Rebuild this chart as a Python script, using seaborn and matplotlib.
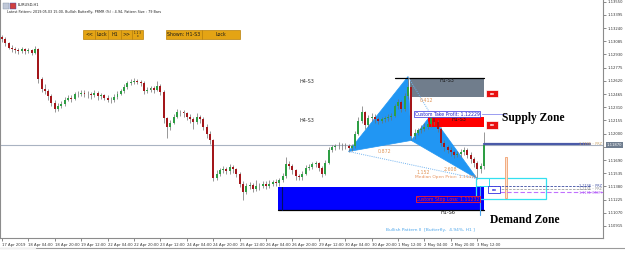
import numpy as np
import pandas as pd
import matplotlib
matplotlib.use("Agg")
import matplotlib.pyplot as plt
import seaborn as sns
from matplotlib.patches import Rectangle, Polygon
from matplotlib.transforms import blended_transform_factory

# ---------------- data (EURUSD, 2-hour candles) ----------------
first_open = 1.1313
close = [1.1311, 1.1306, 1.1301, 1.1299, 1.1298, 1.1297, 1.1299, 1.1297, 1.1298, 1.1295,
         1.1299, 1.1264, 1.1253, 1.1250, 1.1244, 1.1236, 1.1229, 1.1233, 1.1235, 1.1240,
         1.1242, 1.1241, 1.1246, 1.1247, 1.1248, 1.1247, 1.1246, 1.1245, 1.1248, 1.1244,
         1.1245, 1.1242, 1.1240, 1.1239, 1.1243, 1.1247, 1.1250, 1.1255, 1.1259, 1.1261,
         1.1262, 1.1261, 1.1260, 1.1250, 1.1251, 1.1254, 1.1251, 1.1256, 1.1249, 1.1218,
         1.1208, 1.1213, 1.1220, 1.1226, 1.1225, 1.1224, 1.1220, 1.1217, 1.1214, 1.1219,
         1.1217, 1.1208, 1.1199, 1.1192, 1.1148, 1.1153, 1.1157, 1.1158, 1.1156, 1.1161,
         1.1158, 1.1153, 1.1141, 1.1131, 1.1139, 1.1140, 1.1135, 1.1138, 1.1139, 1.1141,
         1.1139, 1.1141, 1.1143, 1.1142, 1.1145, 1.1150, 1.1164, 1.1162, 1.1157, 1.1150,
         1.1149, 1.1153, 1.1160, 1.1161, 1.1164, 1.1165, 1.1160, 1.1153, 1.1166, 1.1181,
         1.1184, 1.1185, 1.1186, 1.1185, 1.1186, 1.1183, 1.1185, 1.1200, 1.1215, 1.1225,
         1.1210, 1.1218, 1.1220, 1.1217, 1.1215, 1.1217, 1.1218, 1.1219, 1.1221, 1.1232,
         1.1237, 1.1229, 1.1244, 1.1255, 1.1197, 1.1201, 1.1204, 1.1206, 1.1208, 1.1211,
         1.1218, 1.1214, 1.1206, 1.1189, 1.1184, 1.1181, 1.1178, 1.1175, 1.1176, 1.1178,
         1.1181, 1.1175, 1.1170, 1.1165, 1.1158, 1.1162, 1.1187]
high = [1.1316, 1.1313, 1.1308, 1.1304, 1.1302, 1.1301, 1.1302, 1.1301, 1.1301, 1.1300,
        1.1303, 1.1301, 1.1267, 1.1258, 1.1253, 1.1247, 1.1239, 1.1236, 1.1238, 1.1243,
        1.1245, 1.1245, 1.1249, 1.1250, 1.1251, 1.1251, 1.1250, 1.1249, 1.1251, 1.1250,
        1.1248, 1.1247, 1.1245, 1.1243, 1.1246, 1.1250, 1.1253, 1.1258, 1.1262, 1.1264,
        1.1265, 1.1264, 1.1263, 1.1262, 1.1255, 1.1256, 1.1256, 1.1262, 1.1258, 1.1251,
        1.1220, 1.1216, 1.1223, 1.1229, 1.1228, 1.1228, 1.1226, 1.1223, 1.1219, 1.1224,
        1.1222, 1.1220, 1.1211, 1.1203, 1.1194, 1.1157, 1.1160, 1.1162, 1.1161, 1.1164,
        1.1163, 1.1160, 1.1155, 1.1144, 1.1142, 1.1143, 1.1142, 1.1146, 1.1142, 1.1144,
        1.1144, 1.1145, 1.1146, 1.1147, 1.1148, 1.1154, 1.1172, 1.1168, 1.1164, 1.1159,
        1.1153, 1.1156, 1.1163, 1.1164, 1.1167, 1.1168, 1.1167, 1.1162, 1.1169, 1.1184,
        1.1187, 1.1188, 1.1190, 1.1189, 1.1189, 1.1188, 1.1188, 1.1203, 1.1219, 1.1232,
        1.1227, 1.1222, 1.1224, 1.1223, 1.1219, 1.1220, 1.1221, 1.1223, 1.1224, 1.1235,
        1.1241, 1.1240, 1.1248, 1.1267, 1.1258, 1.1205, 1.1207, 1.1210, 1.1212, 1.1215,
        1.1222, 1.1220, 1.1216, 1.1208, 1.1192, 1.1187, 1.1184, 1.1181, 1.1180, 1.1182,
        1.1184, 1.1183, 1.1178, 1.1173, 1.1168, 1.1166, 1.1202]
low = [1.1308, 1.1303, 1.1299, 1.1296, 1.1295, 1.1294, 1.1295, 1.1294, 1.1295, 1.1292,
       1.1294, 1.1260, 1.1249, 1.1246, 1.1240, 1.1232, 1.1226, 1.1227, 1.1230, 1.1233,
       1.1238, 1.1237, 1.1239, 1.1243, 1.1244, 1.1243, 1.1242, 1.1241, 1.1243, 1.1240,
       1.1241, 1.1239, 1.1237, 1.1236, 1.1237, 1.1241, 1.1245, 1.1248, 1.1253, 1.1257,
       1.1258, 1.1258, 1.1256, 1.1247, 1.1248, 1.1249, 1.1248, 1.1250, 1.1245, 1.1212,
       1.1195, 1.1204, 1.1211, 1.1218, 1.1221, 1.1220, 1.1216, 1.1212, 1.1205, 1.1211,
       1.1213, 1.1204, 1.1195, 1.1188, 1.1144, 1.1145, 1.1150, 1.1154, 1.1152, 1.1153,
       1.1154, 1.1149, 1.1137, 1.1122, 1.1129, 1.1135, 1.1131, 1.1133, 1.1134, 1.1136,
       1.1135, 1.1136, 1.1138, 1.1139, 1.1139, 1.1143, 1.1148, 1.1158, 1.1153, 1.1146,
       1.1145, 1.1146, 1.1151, 1.1157, 1.1158, 1.1161, 1.1156, 1.1149, 1.1151, 1.1164,
       1.1178, 1.1181, 1.1182, 1.1181, 1.1182, 1.1179, 1.1180, 1.1183, 1.1198, 1.1213,
       1.1206, 1.1208, 1.1215, 1.1213, 1.1211, 1.1212, 1.1214, 1.1215, 1.1216, 1.1219,
       1.1229, 1.1225, 1.1227, 1.1241, 1.1192, 1.1194, 1.1198, 1.1201, 1.1203, 1.1205,
       1.1208, 1.1210, 1.1202, 1.1185, 1.1180, 1.1177, 1.1174, 1.1171, 1.1172, 1.1173,
       1.1175, 1.1171, 1.1166, 1.1161, 1.1147, 1.1154, 1.1159]
bars_per_candle = 2

x_tick_labels = ["17 Apr 2019", "18 Apr 04:00", "18 Apr 20:00", "19 Apr 12:00", "22 Apr 04:00",
                 "22 Apr 20:00", "23 Apr 12:00", "24 Apr 04:00", "24 Apr 20:00", "25 Apr 12:00",
                 "26 Apr 04:00", "26 Apr 20:00", "29 Apr 12:00", "30 Apr 04:00", "30 Apr 20:00",
                 "1 May 12:00", "2 May 04:00", "2 May 20:00", "3 May 12:00"]
x_tick_bars = [0, 16, 32, 48, 64, 80, 96, 112, 128, 144, 160, 176, 192, 208, 224, 240, 256, 272, 288]
y_ticks = [1.13550, 1.13395, 1.13240, 1.13085, 1.12930, 1.12775, 1.12620, 1.12465, 1.12310,
           1.12155, 1.12000, 1.11845, 1.11690, 1.11535, 1.11380, 1.11225, 1.11070, 1.10915]

# Butterfly pattern points X, A, B, C, D
pattern_bar = [210, 246, 248, 260, 288]
pattern_price = [1.1179, 1.1267, 1.1192, 1.1222, 1.1147]
ratio_labels = ["0.872", "0.412", "1.152", "2.608"]

current_price = 1.1187
supply_grey = (247.3, 292.1, 1.12431, 1.12654)     # H1-S3
supply_red = (258.2, 292.1, 1.12078, 1.12196)      # H1-S3
demand_blue = (167.3, 292.1, 1.11103, 1.11373)     # H1-S6
prz_box = (287.3, 329.7, 1.11232, 1.11479)
take_profit = 1.12229
stop_loss = 1.11232
median_open = 1.11491
level_lines = [1.11385, 1.11350, 1.11315]

# ---------------- figure ----------------
sns.set_theme(style="white")
plt.rcParams["font.family"] = ["DejaVu Sans"]

W, H = 625, 254
fig = plt.figure(figsize=(W / 100, H / 100), dpi=100)
fig.patch.set_facecolor("white")
ax = fig.add_axes([0.0, 16 / H, 603 / W, 238 / H])
ax.set_facecolor("white")
XMIN, XMAX = -1.2, 364.2
ax.set_xlim(XMIN, XMAX)
ax.set_ylim(1.10774, 1.13570)


def fx(px):
    return px / W


def fy(py):
    return 1 - py / H


# candles
n = len(close)
df = pd.DataFrame({"bar": np.arange(n) * bars_per_candle,
                   "open": [first_open] + close[:-1],
                   "close": close, "high": high, "low": low})
df["up"] = df["close"] >= df["open"]

# harmonic triangles (behind candles)
X, A, B, C, D = list(zip(pattern_bar, pattern_price))
tri_col = "#2196f3"
ax.add_patch(Polygon([X, A, B], closed=True, facecolor=tri_col, edgecolor=tri_col, lw=0.5, zorder=2))
ax.add_patch(Polygon([B, C, D], closed=True, facecolor=tri_col, edgecolor=tri_col, lw=0.5, zorder=2))

# zones
gx0, gx1, gy0, gy1 = supply_grey
ax.add_patch(Rectangle((gx0, gy0), gx1 - gx0, gy1 - gy0, facecolor="#707d8c", edgecolor="none", zorder=2))
ax.plot([238.2, gx1], [gy1, gy1], color="black", lw=0.9, zorder=3)
ax.text((gx0 + gx1) / 2, gy1 - 0.00025, "H1-S3", fontsize=3.5, color="#1a1a1a", ha="center", va="center", zorder=6)

rx0, rx1, ry0, ry1 = supply_red
ax.add_patch(Rectangle((rx0, ry0), rx1 - rx0, ry1 - ry0, facecolor="#ff0000", edgecolor="none", zorder=2))
ax.text((rx0 + rx1) / 2 + 2, ry1 - 0.00025, "H1-S3", fontsize=3.5, color="#1a1a1a", ha="center", va="center", zorder=6)

bx0, bx1, by0, by1 = demand_blue
ax.add_patch(Rectangle((bx0, by0), bx1 - bx0, by1 - by0, facecolor="#0000ff", edgecolor="none", zorder=2))
ax.plot([bx0, bx1], [by0, by0], color="black", lw=0.9, zorder=3)
ax.plot([169.7, 169.7], [by0, by1], color="#001060", lw=0.8, zorder=3)
ax.text(270, by0 - 0.00025, "H1-S6", fontsize=3.5, color="#1a1a1a", ha="center", va="center")

cx0, cx1, cy0, cy1 = prz_box
ax.add_patch(Rectangle((cx0, cy0), cx1 - cx0, cy1 - cy0, facecolor="none", edgecolor="#33e0f0", lw=0.9, zorder=5))
ax.add_patch(Rectangle((cx0, 1.11385), 8, cy1 - 1.11385, facecolor="none", edgecolor="#33e0f0", lw=0.7, zorder=5))

# current price line (seaborn)
cur_df = pd.DataFrame({"bar": [XMIN, XMAX], "price": [current_price, current_price]})
sns.lineplot(data=cur_df, x="bar", y="price", ax=ax, color="#a9b3c2", lw=0.8, zorder=1)

ax.vlines(df["bar"], df["low"], df["high"], color="#6e6e6e", lw=0.5, zorder=3)
body_bottom = np.minimum(df["open"], df["close"])
body_h = np.maximum((df["close"] - df["open"]).abs(), 0.00003)
ax.bar(df["bar"], body_h, bottom=body_bottom, width=1.2,
       color=np.where(df["up"], "#2e9e44", "#a3161a"), linewidth=0, zorder=4)

# dotted ratio lines (seaborn)
xd = pd.DataFrame({"bar": [X[0], D[0]], "price": [X[1], D[1]]})
ac = pd.DataFrame({"bar": [A[0], C[0]], "price": [A[1], C[1]]})
sns.lineplot(data=xd, x="bar", y="price", ax=ax, color="#6fb2f0", lw=0.7, linestyle=(0, (1, 1.2)), zorder=5)
sns.lineplot(data=ac, x="bar", y="price", ax=ax, color="#6fb2f0", lw=0.7, linestyle=(0, (1, 1.2)), zorder=5)
rcol = "#e0965a"
ax.text(232, 1.11785, ratio_labels[0], fontsize=3.4, color=rcol, ha="center", va="center", zorder=6)
ax.text(257, 1.12385, ratio_labels[1], fontsize=3.4, color=rcol, ha="center", va="center", zorder=6)
ax.text(255, 1.11540, ratio_labels[2], fontsize=3.4, color=rcol, ha="center", va="center", zorder=6)
ax.text(272, 1.11580, ratio_labels[3], fontsize=3.4, color=rcol, ha="center", va="center", zorder=6)

# take profit / stop loss / median open
ax.plot([291, 304.8], [take_profit, take_profit], color="#9a9cf0", lw=0.7, zorder=5)
ax.text(250.3, take_profit, f"Custom Take Profit: {take_profit:.5f}", fontsize=3.3, color="#2020d0",
        ha="left", va="center", zorder=7,
        bbox=dict(boxstyle="square,pad=0.12", facecolor="white", edgecolor="#3030e0", lw=0.5))
ax.text(250.3, median_open, f"Median Open Price: {median_open:.5f}", fontsize=3.2, color="#e8925a",
        ha="left", va="center", zorder=7)
ax.text(251, stop_loss, f"Custom Stop Loss: {stop_loss:.5f}", fontsize=3.3, color="#ff2020",
        ha="left", va="center", zorder=7,
        bbox=dict(boxstyle="square,pad=0.12", facecolor="#0000ff", edgecolor="#ff2020", lw=0.6))

# light blue vertical marker, orange projection bar
ax.plot([289.7, 289.7], [1.11044, 1.11385], color="#4aa3ea", lw=0.8, zorder=6)
ax.add_patch(Rectangle((304.7, 1.11244), 1.6, 1.11726 - 1.11244, facecolor="#fde3cf",
                       edgecolor="#f0a070", lw=0.6, zorder=5))

# right-hand level lines
ax.plot([292.1, 356.4], [current_price + 0.00004, current_price + 0.00004], color="#4a5aa8", lw=1.6, zorder=5)
ax.plot([295.8, 356.4], [level_lines[0], level_lines[0]], color="#3a4aa0", lw=0.6, ls=(0, (3, 1.5)), zorder=5)
ax.plot([295.8, 356.4], [level_lines[1], level_lines[1]], color="#a0a0a0", lw=0.6, ls=(0, (3, 1.5)), zorder=5)
ax.plot([301.8, 364.2], [level_lines[2], level_lines[2]], color="#c070ff", lw=0.8, ls=(0, (4, 2)), zorder=5)
ax.text(363.5, current_price + 0.0001, "1.1188 ·· PRZ", fontsize=2.4, color="#c8a060", ha="right", va="center", zorder=6)
ax.text(363.5, level_lines[0] + 0.00004, "1.1138 ·· PRZ", fontsize=2.4, color="#3a4aa0", ha="right", va="center", zorder=6)
ax.text(363.5, level_lines[1] - 0.00002, "1.1135 ·· PRZ", fontsize=2.4, color="#909090", ha="right", va="center", zorder=6)
ax.text(363.5, level_lines[2] - 0.00008, "1.1131 (MCP)", fontsize=2.4, color="#b060f0", ha="right", va="center", zorder=6)

# small icons
for yc in (1.12470, 1.12105):
    ax.add_patch(Rectangle((293.3, yc - 0.00045), 7.2, 0.0009, facecolor="#e81010", edgecolor="white", lw=0.5, zorder=7))
    ax.text(296.9, yc, "oo", fontsize=2.6, color="white", ha="center", va="center", zorder=8, fontweight="bold")
ax.add_patch(Rectangle((294.5, 1.11300), 7.2, 0.0008, facecolor="white", edgecolor="#3030e0", lw=0.6, zorder=7))
ax.text(298.1, 1.11340, "oo", fontsize=2.6, color="#3030e0", ha="center", va="center", zorder=8, fontweight="bold")

# H4 labels
ax.text(185, 1.12610, "H4-S3", fontsize=3.5, color="#333333", ha="center", va="center")
ax.text(185, 1.12150, "H4-S3", fontsize=3.5, color="#333333", ha="center", va="center")

# zone titles
ax.text(303, 1.12185, "Supply Zone", fontsize=8.3, fontweight="bold", color="black",
        family=["Liberation Serif", "DejaVu Serif"], ha="left", va="center", zorder=8)
ax.text(295.5, 1.10990, "Demand Zone", fontsize=8.3, fontweight="bold", color="black",
        family=["Liberation Serif", "DejaVu Serif"], ha="left", va="center", zorder=8)

ax.text(259.5, 1.10868, "Bullish Pattern II  [Butterfly,  4.94%, H1 ]", fontsize=3.2, color="#4ea6ea",
        ha="center", va="center")

# axes styling
ax.spines["top"].set_visible(False)
for s in ["left", "right", "bottom"]:
    ax.spines[s].set_color("#8c8c8c")
    ax.spines[s].set_linewidth(0.8)
ax.yaxis.tick_right()
ax.set_yticks(y_ticks)
ax.set_yticklabels([f"{v:.5f}" for v in y_ticks])
ax.tick_params(axis="y", labelsize=2.7, length=2, width=0.4, pad=1, colors="#333333", right=True, left=False)
ax.set_xticks(x_tick_bars)
ax.set_xticklabels(x_tick_labels)
for lab in ax.get_xticklabels():
    lab.set_horizontalalignment("left")
ax.tick_params(axis="x", labelsize=2.7, length=2, width=0.4, pad=1.5, colors="#333333", bottom=True)
ax.set_xlabel("")
ax.set_ylabel("")
ax.grid(False)

# current price tag on the axis
tr = blended_transform_factory(ax.transAxes, ax.transData)
ax.text(1.006, current_price, f"{current_price:.5f}", transform=tr, fontsize=2.7, color="white",
        ha="left", va="center", zorder=20, clip_on=False,
        bbox=dict(boxstyle="square,pad=0.25", facecolor="#6f7d8f", edgecolor="none"))

# header
fig.add_artist(Rectangle((fx(3), fy(9)), 6 / W, 6 / H, transform=fig.transFigure,
                         facecolor="#c0c8d8", edgecolor="#8090a0", lw=0.3))
fig.add_artist(Rectangle((fx(10), fy(9)), 6 / W, 6 / H, transform=fig.transFigure,
                         facecolor="#d04040", edgecolor="#3050c0", lw=0.3))
fig.text(fx(18), fy(5.5), "EURUSD,H1", fontsize=2.6, color="#222222", ha="left", va="center")
fig.text(fx(7), fy(12.5), "Latest Pattern: 2019.05.03 15:00, Bullish Butterfly, PRMR (%) : 4.94, Pattern Size : 79 Bars",
         fontsize=2.45, color="#222222", ha="left", va="center")

buttons = [(83, 95, "<<"), (95, 108, "Lock"), (108, 121, "H1"), (121, 132, ">>"), (132, 143, "1 2 3\nx"),
           (166, 202, "Shown: H1-S3"), (202, 240, "Lock")]
for x0, x1, lab in buttons:
    fig.add_artist(Rectangle((fx(x0), fy(38.5)), (x1 - x0) / W, 8.5 / H, transform=fig.transFigure,
                             facecolor="#e4a414", edgecolor="#b8800a", lw=0.5))
    fs = 2.0 if "\n" in lab else 3.4
    fig.text(fx((x0 + x1) / 2), fy(34.2), lab, fontsize=fs, color="#1a1a1a", ha="center", va="center",
             linespacing=0.8)

# window bottom border
fig.add_artist(plt.Line2D([0, 1], [fy(248), fy(248)], transform=fig.transFigure, color="#9a9a9a", lw=0.8))
fig.add_artist(plt.Line2D([0, fx(35)], [fy(247.5), fy(247.5)], transform=fig.transFigure, color="#f0f0f0", lw=1.0))

fig.savefig("out.png", dpi=100, facecolor="white")
